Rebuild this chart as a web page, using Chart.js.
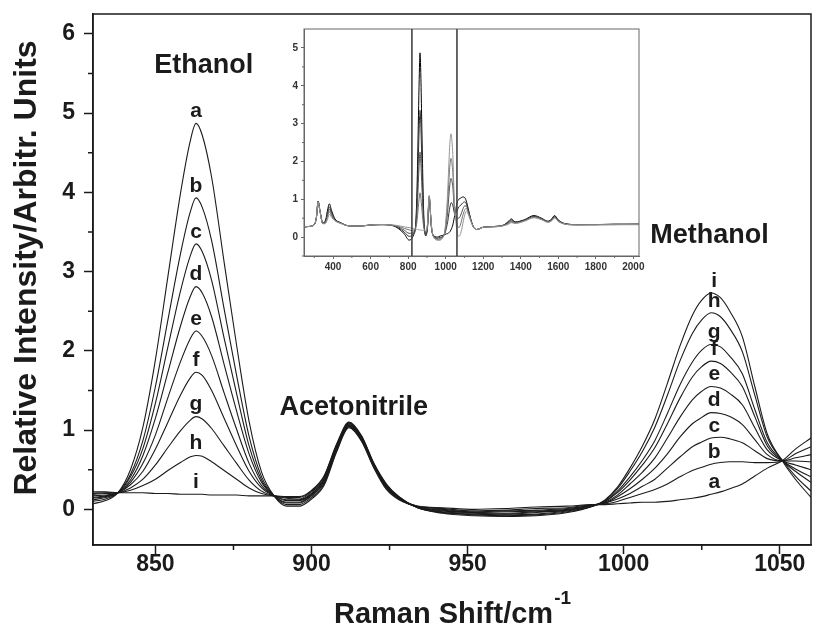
<!DOCTYPE html>
<html>
<head>
<meta charset="utf-8">
<script src="https://cdn.jsdelivr.net/npm/chart.js@4.4.1/dist/chart.umd.min.js"></script>
<style>
  html, body { margin: 0; padding: 0; background: #fff; }
  #wrap { position: relative; width: 813px; height: 640px; }
  #main { position: absolute; left: 0; top: 0; }
  #inset { position: absolute; left: 280px; top: 22px; }
</style>
</head>
<body>
<div id="wrap">
  <canvas id="main" width="813" height="640"></canvas>
  <canvas id="inset" width="368" height="262"></canvas>
</div>
<script>
// ---- Raman shift grid (cm-1) for the zoomed window ----
const shift = [830, 834, 838, 842, 846, 850, 854, 858, 861, 863, 865, 868, 872, 876, 880, 884, 888, 892,
  896, 900, 904, 908, 912, 916, 920, 924, 928, 934, 942, 952, 962, 972, 982, 990,
  994, 998, 1002, 1006, 1010, 1014, 1018, 1022, 1025, 1028, 1031, 1034, 1038, 1042, 1046, 1051, 1055, 1060];

// spectra a..i (ethanol band | acetonitrile band | methanol band)
const specA = [0.07, 0.11, 0.21, 0.50, 1.04, 1.89, 2.94, 3.98, 4.62, 4.87, 4.72, 4.19, 3.12, 2.07, 1.11, 0.47, 0.17, 0.04,
  0.04, 0.13, 0.30, 0.72, 1.03, 0.86, 0.52, 0.25, 0.12, 0.04, 0.02, 0.00, 0.01, 0.03, 0.04, 0.06,
  0.06, 0.07, 0.08, 0.09, 0.09, 0.10, 0.12, 0.14, 0.16, 0.19, 0.22, 0.26, 0.32, 0.42, 0.52, 0.62, 0.76, 0.90];
const specB = [0.10, 0.13, 0.21, 0.44, 0.87, 1.55, 2.39, 3.22, 3.73, 3.93, 3.81, 3.39, 2.53, 1.69, 0.92, 0.41, 0.17, 0.06,
  0.06, 0.15, 0.32, 0.74, 1.04, 0.87, 0.53, 0.26, 0.13, 0.04, 0.01, -0.02, -0.01, 0.01, 0.02, 0.06,
  0.07, 0.10, 0.15, 0.20, 0.25, 0.32, 0.41, 0.49, 0.53, 0.57, 0.59, 0.60, 0.60, 0.59, 0.59, 0.61, 0.70, 0.79];
const specC = [0.12, 0.15, 0.21, 0.41, 0.77, 1.34, 2.05, 2.75, 3.18, 3.35, 3.25, 2.89, 2.16, 1.46, 0.80, 0.37, 0.17, 0.08,
  0.08, 0.17, 0.34, 0.75, 1.05, 0.88, 0.54, 0.27, 0.13, 0.03, 0.00, -0.03, -0.02, -0.01, 0.01, 0.05,
  0.08, 0.13, 0.20, 0.29, 0.38, 0.52, 0.66, 0.79, 0.85, 0.90, 0.91, 0.89, 0.84, 0.74, 0.64, 0.61, 0.65, 0.69];
const specD = [0.14, 0.16, 0.21, 0.37, 0.68, 1.15, 1.73, 2.31, 2.67, 2.81, 2.73, 2.43, 1.83, 1.24, 0.70, 0.34, 0.17, 0.09,
  0.09, 0.18, 0.35, 0.76, 1.06, 0.89, 0.55, 0.28, 0.14, 0.03, -0.01, -0.04, -0.03, -0.02, 0.00, 0.05,
  0.08, 0.16, 0.26, 0.38, 0.52, 0.70, 0.91, 1.08, 1.16, 1.22, 1.21, 1.17, 1.07, 0.88, 0.69, 0.61, 0.61, 0.60];
const specE = [0.15, 0.17, 0.21, 0.34, 0.58, 0.94, 1.41, 1.86, 2.14, 2.25, 2.18, 1.94, 1.47, 1.01, 0.58, 0.30, 0.17, 0.11,
  0.11, 0.19, 0.37, 0.78, 1.07, 0.90, 0.55, 0.29, 0.14, 0.03, -0.02, -0.04, -0.05, -0.03, -0.01, 0.05,
  0.09, 0.18, 0.32, 0.47, 0.65, 0.90, 1.16, 1.38, 1.49, 1.55, 1.53, 1.46, 1.32, 1.03, 0.75, 0.61, 0.56, 0.50];
const specF = [0.17, 0.18, 0.21, 0.31, 0.48, 0.76, 1.10, 1.44, 1.65, 1.73, 1.69, 1.50, 1.15, 0.80, 0.48, 0.27, 0.17, 0.12,
  0.12, 0.20, 0.38, 0.79, 1.08, 0.91, 0.56, 0.30, 0.15, 0.03, -0.03, -0.05, -0.06, -0.04, -0.01, 0.05,
  0.10, 0.21, 0.37, 0.56, 0.78, 1.08, 1.40, 1.67, 1.80, 1.87, 1.84, 1.74, 1.55, 1.17, 0.80, 0.61, 0.51, 0.41];
const specG = [0.19, 0.20, 0.21, 0.27, 0.38, 0.56, 0.78, 0.99, 1.12, 1.17, 1.14, 1.02, 0.80, 0.58, 0.37, 0.23, 0.17, 0.14,
  0.13, 0.22, 0.39, 0.80, 1.09, 0.92, 0.57, 0.31, 0.15, 0.02, -0.04, -0.06, -0.07, -0.06, -0.02, 0.04,
  0.10, 0.23, 0.41, 0.62, 0.87, 1.21, 1.57, 1.86, 2.01, 2.08, 2.05, 1.93, 1.71, 1.26, 0.84, 0.61, 0.48, 0.34];
const specH = [0.20, 0.21, 0.21, 0.24, 0.30, 0.38, 0.49, 0.59, 0.66, 0.68, 0.67, 0.60, 0.49, 0.38, 0.27, 0.20, 0.17, 0.15,
  0.15, 0.23, 0.41, 0.81, 1.09, 0.92, 0.57, 0.31, 0.16, 0.02, -0.04, -0.07, -0.08, -0.07, -0.03, 0.04,
  0.11, 0.26, 0.48, 0.73, 1.04, 1.44, 1.87, 2.22, 2.39, 2.48, 2.43, 2.28, 1.99, 1.44, 0.91, 0.61, 0.42, 0.23];
const specI = [0.22, 0.22, 0.21, 0.21, 0.21, 0.20, 0.20, 0.19, 0.19, 0.19, 0.19, 0.18, 0.18, 0.18, 0.17, 0.17, 0.17, 0.16,
  0.16, 0.24, 0.42, 0.82, 1.10, 0.93, 0.58, 0.32, 0.16, 0.02, -0.05, -0.08, -0.09, -0.08, -0.04, 0.04,
  0.12, 0.28, 0.52, 0.80, 1.14, 1.59, 2.06, 2.45, 2.64, 2.73, 2.67, 2.50, 2.18, 1.55, 0.95, 0.60, 0.38, 0.15];

const letters = ['a', 'b', 'c', 'd', 'e', 'f', 'g', 'h', 'i'];
const series = [specA, specB, specC, specD, specE, specF, specG, specH, specI];

// ---- full-range spectra for the inset (outside the zoomed window) ----
const insetLowShift = [245, 270, 300, 312, 320, 330, 345, 360, 372, 380, 392, 410, 440, 480, 540, 600, 660, 720, 750, 780, 805, 822];
const lowA = [0.27, 0.28, 0.33, 0.55, 0.95, 0.70, 0.38, 0.45, 0.75, 0.88, 0.70, 0.48, 0.38, 0.30, 0.29, 0.32, 0.33, 0.30, 0.22, 0.08, -0.08, -0.02];
const lowC = [0.27, 0.28, 0.33, 0.55, 0.95, 0.70, 0.37, 0.42, 0.68, 0.80, 0.65, 0.47, 0.38, 0.30, 0.29, 0.32, 0.33, 0.30, 0.24, 0.13, 0.02, 0.05];
const lowE = [0.27, 0.28, 0.33, 0.55, 0.94, 0.69, 0.36, 0.40, 0.62, 0.74, 0.60, 0.45, 0.37, 0.30, 0.29, 0.32, 0.33, 0.31, 0.26, 0.18, 0.10, 0.11];
const lowG = [0.27, 0.28, 0.33, 0.55, 0.94, 0.68, 0.36, 0.38, 0.56, 0.67, 0.56, 0.44, 0.37, 0.30, 0.29, 0.32, 0.33, 0.31, 0.28, 0.23, 0.19, 0.17];
const lowI = [0.27, 0.28, 0.33, 0.55, 0.93, 0.68, 0.35, 0.36, 0.50, 0.60, 0.52, 0.43, 0.36, 0.30, 0.29, 0.32, 0.33, 0.32, 0.30, 0.27, 0.25, 0.23];

const insetHighShift = [1070, 1080, 1090, 1100, 1110, 1120, 1135, 1150, 1165, 1200, 1260, 1310, 1335, 1350, 1370, 1420, 1470, 1510, 1545, 1565, 1580, 1600, 1640, 1700, 1800, 1900, 2030];
const highA = [1.00, 1.03, 1.06, 1.05, 0.95, 0.75, 0.45, 0.25, 0.20, 0.26, 0.28, 0.32, 0.42, 0.48, 0.40, 0.46, 0.57, 0.50, 0.42, 0.48, 0.57, 0.45, 0.35, 0.33, 0.33, 0.34, 0.34];
const highC = [0.80, 0.84, 0.90, 0.93, 0.88, 0.72, 0.44, 0.25, 0.20, 0.26, 0.28, 0.32, 0.40, 0.45, 0.39, 0.45, 0.55, 0.49, 0.41, 0.46, 0.55, 0.44, 0.35, 0.33, 0.33, 0.34, 0.34];
const highE = [0.50, 0.58, 0.72, 0.82, 0.82, 0.68, 0.43, 0.25, 0.20, 0.26, 0.28, 0.31, 0.38, 0.42, 0.38, 0.44, 0.54, 0.48, 0.40, 0.45, 0.53, 0.43, 0.34, 0.33, 0.33, 0.33, 0.34];
const highG = [0.25, 0.35, 0.55, 0.70, 0.76, 0.65, 0.42, 0.25, 0.20, 0.26, 0.27, 0.31, 0.36, 0.40, 0.37, 0.43, 0.52, 0.47, 0.40, 0.44, 0.52, 0.42, 0.34, 0.32, 0.33, 0.33, 0.33];
const highI = [0.02, 0.10, 0.32, 0.56, 0.68, 0.60, 0.40, 0.25, 0.20, 0.26, 0.27, 0.30, 0.34, 0.38, 0.36, 0.42, 0.51, 0.46, 0.39, 0.43, 0.50, 0.41, 0.34, 0.32, 0.32, 0.33, 0.33];
const insetMarks = [820, 1060];   // edges of the zoomed window

// ---- ticks ----
const xTicks = [850, 900, 950, 1000, 1050];
const xMinor = [875, 925, 975, 1025];
const yTicks = [0, 1, 2, 3, 4, 5, 6];
const yMinor = [0.5, 1.5, 2.5, 3.5, 4.5, 5.5];
const insetXTicks = [400, 600, 800, 1000, 1200, 1400, 1600, 1800, 2000];
const insetXMinor = [300, 500, 700, 900, 1100, 1300, 1500, 1700, 1900];
const insetYTicks = [0, 1, 2, 3, 4, 5];
const insetYMinor = [-0.5, 0.5, 1.5, 2.5, 3.5, 4.5];

const FONT = '"Liberation Sans", Arial, Helvetica, sans-serif';
const ink = '#1b1b1b';

const toPoints = (xs, ys) => xs.map((x, k) => ({ x, y: ys[k] }));

// keep the plot box where the layout padding puts it
const noEdgePadding = s => { s.paddingTop = 0; s.paddingBottom = 0; s.paddingLeft = 0; s.paddingRight = 0; };

// box frame, minor ticks and optional vertical markers
const framePlugin = {
  id: 'frame',
  afterDraw(chart, args, o) {
    const { ctx, chartArea: a, scales: { x, y } } = chart;
    ctx.save();
    ctx.strokeStyle = o.color;
    ctx.lineWidth = o.width;
    ctx.strokeRect(a.left, a.top, a.right - a.left, a.bottom - a.top);
    ctx.beginPath();
    o.xMinor.forEach(v => {
      const p = x.getPixelForValue(v);
      ctx.moveTo(p, a.bottom); ctx.lineTo(p, a.bottom + o.len);
    });
    o.yMinor.forEach(v => {
      const p = y.getPixelForValue(v);
      if (p > a.bottom + 0.5) return;
      ctx.moveTo(a.left - o.len, p); ctx.lineTo(a.left, p);
    });
    ctx.stroke();
    if (o.marks) {
      ctx.strokeStyle = o.markColor;
      ctx.lineWidth = 1.6;
      ctx.beginPath();
      o.marks.forEach(v => {
        const p = x.getPixelForValue(v);
        ctx.moveTo(p, a.top); ctx.lineTo(p, a.bottom);
      });
      ctx.stroke();
    }
    ctx.restore();
  }
};

// band names, curve letters and axis titles
const textPlugin = {
  id: 'texts',
  afterDraw(chart) {
    const { ctx, chartArea: a, scales: { x, y } } = chart;
    ctx.save();
    ctx.fillStyle = ink;
    ctx.textAlign = 'center';
    ctx.textBaseline = 'middle';

    ctx.font = `bold 27px ${FONT}`;
    ctx.fillText('Ethanol', x.getPixelForValue(865.5), y.getPixelForValue(5.6));
    ctx.fillText('Acetonitrile', x.getPixelForValue(913.5), y.getPixelForValue(1.28));
    ctx.fillText('Methanol', x.getPixelForValue(1027.5), y.getPixelForValue(3.45));

    ctx.font = `bold 21px ${FONT}`;
    const ie = shift.indexOf(863), im = shift.indexOf(1028);
    series.forEach((s, k) => {
      ctx.fillText(letters[k], x.getPixelForValue(863), y.getPixelForValue(s[ie]) - 12);
      ctx.fillText(letters[k], x.getPixelForValue(1029), y.getPixelForValue(s[im]) - 12);
    });

    // x title with superscript
    const main = 'Raman Shift/cm', sup = '-1';
    ctx.font = `bold 29px ${FONT}`;
    const w1 = ctx.measureText(main).width;
    ctx.font = `bold 19px ${FONT}`;
    const w2 = ctx.measureText(sup).width;
    const x0 = (a.left + a.right) / 2 - (w1 + w2) / 2;
    ctx.textAlign = 'left';
    ctx.textBaseline = 'alphabetic';
    ctx.font = `bold 29px ${FONT}`;
    ctx.fillText(main, x0, 623);
    ctx.font = `bold 19px ${FONT}`;
    ctx.fillText(sup, x0 + w1 + 1, 604);

    // y title
    ctx.translate(27, 268);
    ctx.rotate(-Math.PI / 2);
    ctx.textAlign = 'center';
    ctx.textBaseline = 'middle';
    ctx.font = `bold 32px ${FONT}`;
    ctx.fillText('Relative Intensity/Arbitr. Units', 0, 0);
    ctx.restore();
  }
};

// ---- main chart ----
new Chart(document.getElementById('main'), {
  type: 'line',
  data: {
    datasets: series.map((s, k) => ({
      label: letters[k],
      data: toPoints(shift, s),
      borderColor: ink,
      borderWidth: 1.1,
      pointRadius: 0,
      fill: false,
      cubicInterpolationMode: 'monotone'
    }))
  },
  options: {
    responsive: false, animation: false, devicePixelRatio: 1,
    layout: { padding: { top: 14, right: 2, left: 0, bottom: 0 } },
    plugins: {
      legend: { display: false }, tooltip: { enabled: false },
      frame: { color: ink, width: 1.5, len: 5, xMinor, yMinor }
    },
    scales: {
      x: {
        type: 'linear', min: 830, max: 1060,
        afterBuildTicks: s => { s.ticks = xTicks.map(v => ({ value: v })); },
        afterFit: s => { s.height = 95; noEdgePadding(s); },
        ticks: { callback: v => String(v), font: { family: FONT, size: 23, weight: 'bold' }, color: ink, padding: -3, maxRotation: 0, autoSkip: false },
        grid: { drawOnChartArea: false, tickLength: 9, tickColor: ink, tickWidth: 1.5 },
        border: { color: ink, width: 1.5 }
      },
      y: {
        min: -0.45, max: 6.25,
        afterBuildTicks: s => { s.ticks = yTicks.map(v => ({ value: v })); },
        afterFit: s => { s.width = 93; noEdgePadding(s); },
        ticks: { callback: v => String(v), font: { family: FONT, size: 23, weight: 'bold' }, color: ink, padding: 9 },
        grid: { drawOnChartArea: false, tickLength: 9, tickColor: ink, tickWidth: 1.5 },
        border: { color: ink, width: 1.5 }
      }
    }
  },
  plugins: [framePlugin, textPlugin]
});

// ---- inset: full spectrum ----
const insetSets = [
  { low: lowA, mid: specA, high: highA, color: '#000000' },
  { low: lowC, mid: specC, high: highC, color: '#303030' },
  { low: lowE, mid: specE, high: highE, color: '#505050' },
  { low: lowG, mid: specG, high: highG, color: '#707070' },
  { low: lowI, mid: specI, high: highI, color: '#949494' }
];
const insetShift = insetLowShift.concat(shift, insetHighShift);

new Chart(document.getElementById('inset'), {
  type: 'line',
  data: {
    datasets: insetSets.slice().reverse().map(d => ({
      data: toPoints(insetShift, d.low.concat(d.mid, d.high)),
      borderColor: d.color,
      borderWidth: 1,
      pointRadius: 0,
      fill: false,
      cubicInterpolationMode: 'monotone'
    }))
  },
  options: {
    responsive: false, animation: false, devicePixelRatio: 1,
    layout: { padding: { top: 7, right: 9, left: 0, bottom: 0 } },
    plugins: {
      legend: { display: false }, tooltip: { enabled: false },
      frame: { color: '#666', width: 1, len: 2, xMinor: insetXMinor, yMinor: insetYMinor, marks: insetMarks, markColor: '#444' }
    },
    scales: {
      x: {
        type: 'linear', min: 245, max: 2030,
        afterBuildTicks: s => { s.ticks = insetXTicks.map(v => ({ value: v })); },
        afterFit: s => { s.height = 28; noEdgePadding(s); },
        ticks: { callback: v => String(v), font: { family: FONT, size: 10, weight: 'bold' }, color: '#333', padding: 2, maxRotation: 0, autoSkip: false },
        grid: { drawOnChartArea: false, tickLength: 3, tickColor: '#666' },
        border: { color: '#666', width: 1 }
      },
      y: {
        min: -0.5, max: 5.5,
        afterBuildTicks: s => { s.ticks = insetYTicks.map(v => ({ value: v })); },
        afterFit: s => { s.width = 24; noEdgePadding(s); },
        ticks: { callback: v => String(v), font: { family: FONT, size: 10, weight: 'bold' }, color: '#333', padding: 3 },
        grid: { drawOnChartArea: false, tickLength: 3, tickColor: '#666' },
        border: { color: '#666', width: 1 }
      }
    }
  },
  plugins: [framePlugin]
});
</script>
</body>
</html>
